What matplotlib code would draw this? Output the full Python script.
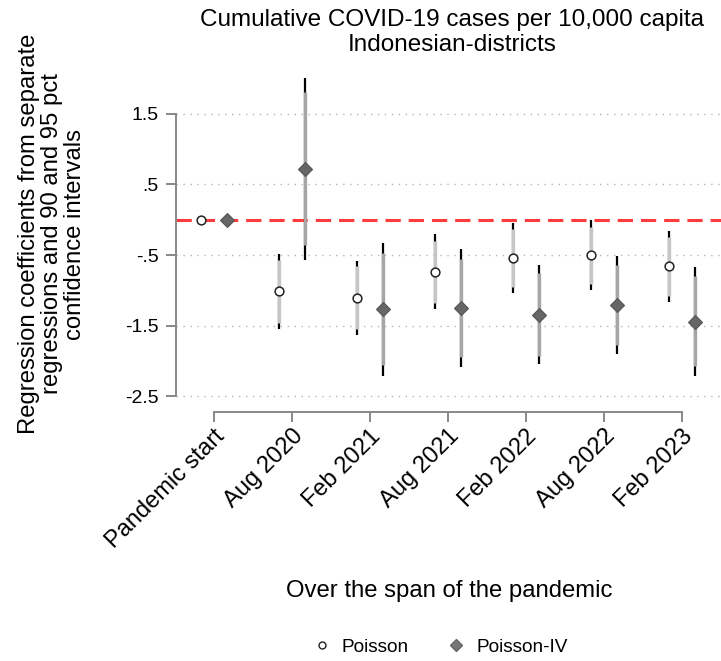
import numpy as np
import matplotlib
matplotlib.use("Agg")
import matplotlib.pyplot as plt
from matplotlib.lines import Line2D

plt.rcParams["font.family"] = ["Liberation Sans", "DejaVu Sans"]

categories = ["Pandemic start", "Aug 2020", "Feb 2021", "Aug 2021",
              "Feb 2022", "Aug 2022", "Feb 2023"]
nan = np.nan
# Poisson estimates with 95 / 90 pct intervals
poisson_coef = [0.0, -1.01, -1.11, -0.735, -0.54, -0.50, -0.66]
poisson_lo95 = [nan, -1.55, -1.635, -1.27, -1.03, -0.995, -1.17]
poisson_hi95 = [nan, -0.485, -0.59, -0.20, -0.04, -0.01, -0.155]
poisson_lo90 = [nan, -1.465, -1.55, -1.18, -0.95, -0.91, -1.08]
poisson_hi90 = [nan, -0.57, -0.66, -0.295, -0.13, -0.10, -0.24]
# Poisson-IV estimates
iv_coef = [0.0, 0.717, -1.27, -1.255, -1.35, -1.21, -1.44]
iv_lo95 = [nan, -0.57, -2.21, -2.08, -2.045, -1.90, -2.21]
iv_hi95 = [nan, 2.01, -0.33, -0.42, -0.64, -0.52, -0.665]
iv_lo90 = [nan, -0.36, -2.055, -1.94, -1.93, -1.77, -2.07]
iv_hi90 = [nan, 1.81, -0.475, -0.55, -0.76, -0.64, -0.80]

yticks = [1.5, 0.5, -0.5, -1.5, -2.5]
ytick_labels = ["1.5", ".5", "-.5", "-1.5", "-2.5"]

W, H = 721, 661
fig = plt.figure(figsize=(W / 100, H / 100), dpi=100)
ax = fig.add_axes([176 / W, 1 - 405 / H, 1 - 176 / W, (405 - 65) / H])

x = np.arange(len(categories))
off = 1 / 6

for yt in yticks:
    ax.axhline(yt, color="#b4b4b4", lw=1.0, ls=(0, (1, 4)), zorder=1)
ax.axhline(0, color="#ff3b3b", lw=2.2, ls=(0, (5, 2.6)), zorder=2)

def draw(xs, coef, lo95, hi95, lo90, hi90, ci_col, **mk):
    ax.vlines(xs, lo95, hi95, color="black", lw=1.6, zorder=3)
    ax.vlines(xs, lo90, hi90, color=ci_col, lw=2.4, zorder=4)
    ax.plot(xs, coef, ls="none", zorder=5, **mk)

draw(x - off, poisson_coef, poisson_lo95, poisson_hi95, poisson_lo90, poisson_hi90,
     "#c6c6c6", marker="o", ms=6.3, mfc="white", mec="#222222", mew=1.1)
draw(x + off, iv_coef, iv_lo95, iv_hi95, iv_lo90, iv_hi90,
     "#a6a6a6", marker="D", ms=7.5, mfc="#666666", mec="#555555", mew=0.8)

ax.set_xlim(-0.487, 6.5)
ax.set_ylim(-2.621, 2.188)

for s in ["top", "right"]:
    ax.spines[s].set_visible(False)
ax.spines["left"].set_bounds(-2.5, 1.5)
ax.spines["left"].set_color("#888888")
ax.spines["left"].set_linewidth(1.4)
ax.spines["bottom"].set_bounds(0, 6)
ax.spines["bottom"].set_position(("outward", 5))
ax.spines["bottom"].set_color("#888888")
ax.spines["bottom"].set_linewidth(1.4)

ax.set_yticks(yticks)
ax.set_yticklabels(ytick_labels, fontsize=14)
ax.set_xticks(x)
ax.set_xticklabels(categories, fontsize=17, rotation=45, ha="right",
                   rotation_mode="anchor")
ax.tick_params(axis="both", direction="out", length=7.5, width=1.4,
               color="#888888")
ax.tick_params(axis="y", pad=5)
ax.tick_params(axis="x", pad=2)

fig.text(452 / W, 1 - 20 / H, "Cumulative COVID-19 cases per 10,000 capita",
         ha="center", va="center", fontsize=17.5)
fig.text(452 / W, 1 - 45 / H, "Indonesian-districts",
         ha="center", va="center", fontsize=17.5)
fig.text(52 / W, 1 - 234 / H,
         "Regression coefficients from separate\nregressions and 90 and 95 pct\nconfidence intervals",
         rotation=90, ha="center", va="center", fontsize=17.2, linespacing=1.05)
fig.text(449 / W, 1 - 591 / H, "Over the span of the pandemic",
         ha="center", va="center", fontsize=17.2)

handles = [
    Line2D([], [], ls="none", marker="o", ms=5, mfc="white", mec="#222222", mew=1.0),
    Line2D([], [], ls="none", marker="D", ms=6.5, mfc="#777777", mec="#666666"),
]
fig.legend(handles, ["Poisson", "Poisson-IV"], loc="center",
           bbox_to_anchor=(440 / W, 1 - 647 / H), ncol=2, frameon=False,
           fontsize=13.7, handletextpad=0.55, columnspacing=2.0, handlelength=1.0)

fig.savefig("out.png", dpi=100)
